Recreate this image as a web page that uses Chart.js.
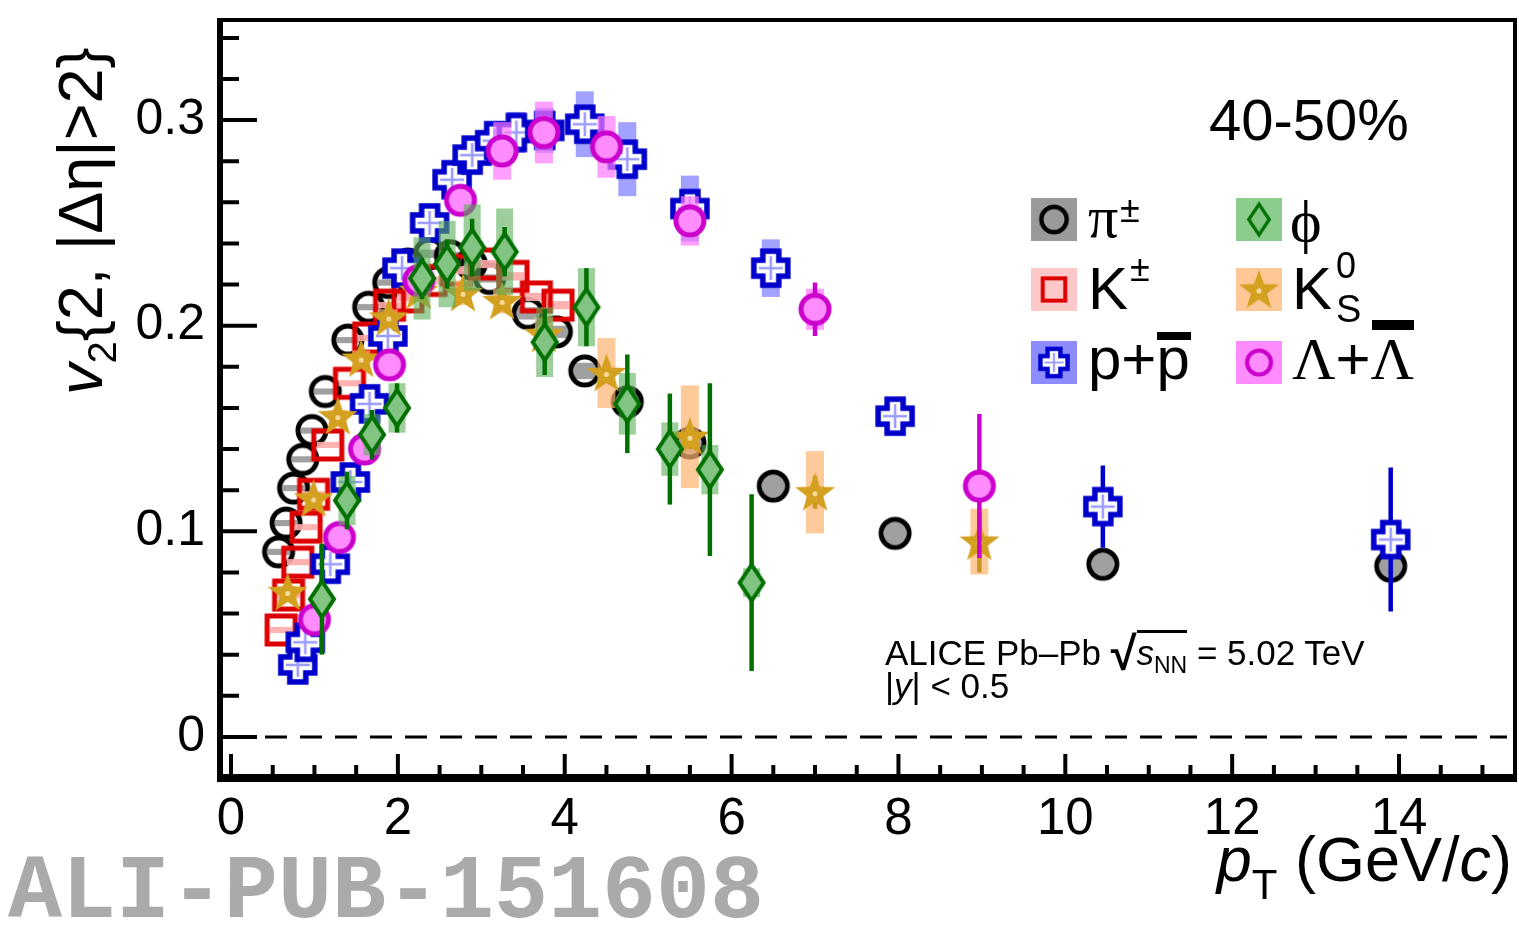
<!DOCTYPE html>
<html>
<head>
<meta charset="utf-8">
<script src="https://cdn.jsdelivr.net/npm/chart.js@4.4.0/dist/chart.umd.min.js"></script>
<style>
  html, body { margin: 0; padding: 0; background: #fff; }
  #wrap { position: relative; width: 1519px; height: 926px; overflow: hidden;
          font-family: "Liberation Sans", Arial, sans-serif; color: #000; }
  #chart { position: absolute; left: 0; top: 0; }
  .t { position: absolute; white-space: nowrap; line-height: 1; }
  .serif { font-family: "Liberation Serif", "DejaVu Serif", serif; }
  .bar { position: absolute; background: #000; }
  .icon { position: absolute; }
</style>
</head>
<body>
<div id="wrap">
  <canvas id="chart" width="1519" height="926"></canvas>
</div>
<script>
// values (pT in GeV/c, v2)
const PION_PT = [0.57, 0.66, 0.75, 0.86, 0.97, 1.13, 1.4, 1.65, 1.89, 2.12, 2.38, 2.63, 2.88, 3.1, 3.56, 3.9, 4.24, 4.75, 5.5, 6.5, 7.96, 10.45, 13.9];
const PION_V2 = [0.090, 0.104, 0.121, 0.135, 0.149, 0.168, 0.193, 0.209, 0.221, 0.230, 0.235, 0.234, 0.230, 0.223, 0.206, 0.197, 0.178, 0.163, 0.143, 0.122, 0.099, 0.084, 0.083];
const PION_SYS = [0.0015, 0.0015, 0.0015, 0.0015, 0.0015, 0.0015, 0.0015, 0.0015, 0.0015, 0.002, 0.002, 0.002, 0.002, 0.002, 0.003, 0.003, 0.004, 0.005, 0.0055, 0.0055, 0.0055, 0.0055, 0.0055];

const KAON_PT = [0.6, 0.69, 0.8, 0.9, 0.99, 1.16, 1.42, 1.65, 1.9, 2.12, 2.4, 2.7, 3.05, 3.38, 3.66, 3.92];
const KAON_V2 = [0.052, 0.069, 0.085, 0.102, 0.118, 0.142, 0.172, 0.194, 0.210, 0.214, 0.222, 0.227, 0.230, 0.224, 0.214, 0.210];
const KAON_SYS = [0.0015, 0.0015, 0.0015, 0.0015, 0.0015, 0.0015, 0.0015, 0.0015, 0.0015, 0.002, 0.002, 0.002, 0.002, 0.002, 0.002, 0.002];

const PROTON_PT = [0.8, 0.89, 1.19, 1.43, 1.66, 1.88, 2.05, 2.38, 2.65, 2.89, 3.16, 3.42, 3.76, 4.24, 4.75, 5.5, 6.47, 7.96, 10.45, 13.9];
const PROTON_V2 = [0.035, 0.046, 0.084, 0.124, 0.162, 0.195, 0.228, 0.250, 0.271, 0.283, 0.290, 0.294, 0.295, 0.298, 0.281, 0.257, 0.228, 0.156, 0.112, 0.096];
const PROTON_STAT = [0.002, 0.002, 0.002, 0.002, 0.002, 0.002, 0.002, 0.002, 0.002, 0.002, 0.002, 0.003, 0.003, 0.003, 0.004, 0.005, 0.006, 0.007, 0.020, 0.035];
const PROTON_SYS = [0.003, 0.003, 0.003, 0.004, 0.004, 0.005, 0.005, 0.006, 0.007, 0.008, 0.009, 0.010, 0.011, 0.016, 0.018, 0.016, 0.014, 0.006, 0.005, 0.005];

const K0S_PT = [0.68, 0.99, 1.28, 1.56, 1.89, 2.25, 2.78, 3.25, 3.75, 4.5, 5.5, 7, 8.97];
const K0S_V2 = [0.0705, 0.116, 0.156, 0.184, 0.204, 0.217, 0.216, 0.212, 0.196, 0.177, 0.146, 0.119, 0.095];
const K0S_STAT = [0.001, 0.001, 0.001, 0.001, 0.001, 0.002, 0.002, 0.002, 0.003, 0.004, 0.006, 0.008, 0.015];
const K0S_SYS = [0.003, 0.003, 0.003, 0.004, 0.004, 0.005, 0.006, 0.006, 0.008, 0.017, 0.025, 0.020, 0.016];

const LAMBDA_PT = [1.0, 1.3, 1.6, 1.9, 2.25, 2.75, 3.25, 3.75, 4.5, 5.5, 7, 8.97];
const LAMBDA_V2 = [0.057, 0.097, 0.140, 0.181, 0.222, 0.261, 0.285, 0.294, 0.287, 0.251, 0.208, 0.122];
const LAMBDA_STAT = [0.003, 0.003, 0.003, 0.003, 0.003, 0.003, 0.004, 0.004, 0.005, 0.006, 0.013, 0.035];
const LAMBDA_SYS = [0.003, 0.003, 0.003, 0.003, 0.004, 0.005, 0.014, 0.015, 0.015, 0.012, 0.010, 0.006];

const PHI_PT = [1.09, 1.39, 1.69, 1.99, 2.29, 2.59, 2.89, 3.28, 3.76, 4.26, 4.75, 5.26, 5.74, 6.24];
const PHI_V2 = [0.067, 0.115, 0.147, 0.160, 0.223, 0.230, 0.238, 0.236, 0.192, 0.209, 0.162, 0.140, 0.130, 0.075];
const PHI_STAT = [0.027, 0.014, 0.012, 0.012, 0.010, 0.012, 0.014, 0.012, 0.016, 0.019, 0.024, 0.027, 0.042, 0.043];
const PHI_SYS = [0.004, 0.012, 0.010, 0.012, 0.020, 0.021, 0.021, 0.021, 0.017, 0.019, 0.015, 0.013, 0.012, 0.007];

const X_TICKS = [0, 2, 4, 6, 8, 10, 12, 14];
const Y_TICKS = [0, 0.1, 0.2, 0.3];

const FONT = '"Liberation Sans", Arial, sans-serif';

// ---- marker images ----
const makeMarker = (w, h, draw) => {
  const c = document.createElement("canvas");
  c.width = w;
  c.height = h;
  const g = c.getContext("2d");
  g.translate(w / 2, h / 2);
  draw(g);
  return c;
};

const pionMarker = makeMarker(40, 40, (g) => {
  g.beginPath();
  g.arc(0, 0, 14, 0, 2 * Math.PI);
  g.lineWidth = 5;
  g.strokeStyle = "#000";
  g.stroke();
});

const kaonMarker = makeMarker(40, 40, (g) => {
  g.lineWidth = 5;
  g.strokeStyle = "#dd0000";
  g.strokeRect(-14, -14, 28, 28);
});

const protonMarker = makeMarker(44, 44, (g) => {
  const a = 8, L = 17;
  const pts = [[-a, -L], [a, -L], [a, -a], [L, -a], [L, a], [a, a], [a, L], [-a, L], [-a, a], [-L, a], [-L, -a], [-a, -a]];
  g.beginPath();
  pts.forEach(([x, y], i) => (i ? g.lineTo(x, y) : g.moveTo(x, y)));
  g.closePath();
  g.fillStyle = "#fff";
  g.fill();
  g.lineWidth = 5.5;
  g.strokeStyle = "#0000cc";
  g.stroke();
  g.beginPath();
  g.moveTo(-12, 0); g.lineTo(12, 0);
  g.moveTo(0, -12); g.lineTo(0, 12);
  g.lineWidth = 2.5;
  g.strokeStyle = "#9c9cff";
  g.stroke();
});

const phiMarker = makeMarker(32, 44, (g) => {
  g.beginPath();
  g.moveTo(0, -18); g.lineTo(12, 0); g.lineTo(0, 18); g.lineTo(-12, 0);
  g.closePath();
  g.fillStyle = "#82c482";
  g.fill();
  g.lineWidth = 4;
  g.strokeStyle = "#007000";
  g.stroke();
});

const starMarker = makeMarker(46, 46, (g) => {
  g.beginPath();
  for (let i = 0; i < 10; i++) {
    const r = i % 2 ? 8.5 : 21;
    const ang = -Math.PI / 2 + (i * Math.PI) / 5;
    const x = r * Math.cos(ang), y = r * Math.sin(ang) + 1.5;
    i ? g.lineTo(x, y) : g.moveTo(x, y);
  }
  g.closePath();
  g.fillStyle = "#d4a020";
  g.fill();
  g.beginPath();
  g.arc(0, 1.5, 2.5, 0, 2 * Math.PI);
  g.fillStyle = "#f6dba0";
  g.fill();
});

const lambdaMarker = makeMarker(40, 40, (g) => {
  g.beginPath();
  g.arc(0, 0, 14, 0, 2 * Math.PI);
  g.fillStyle = "#ff8cff";
  g.fill();
  g.lineWidth = 5;
  g.strokeStyle = "#cc00cc";
  g.stroke();
});

// dataset order = drawing order (first drawn lowest)
const SPECIES = [
  { pt: PION_PT, v2: PION_V2, sys: PION_SYS, stat: null, marker: pionMarker, box: "rgba(150,150,150,0.9)", boxW: 22, line: "#000", legBox: "#9a9a9a" },
  { pt: KAON_PT, v2: KAON_V2, sys: KAON_SYS, stat: null, marker: kaonMarker, box: "rgba(255,170,170,0.9)", boxW: 22, line: "#dd0000", legBox: "#ffc8c8" },
  { pt: PROTON_PT, v2: PROTON_V2, sys: PROTON_SYS, stat: PROTON_STAT, marker: protonMarker, box: "rgba(110,110,255,0.65)", boxW: 18, line: "#0000cc", legBox: "#8c8cff" },
  { pt: K0S_PT, v2: K0S_V2, sys: K0S_SYS, stat: K0S_STAT, marker: starMarker, box: "rgba(255,180,110,0.7)", boxW: 18, line: "#c8961e", legBox: "#ffc896" },
  { pt: LAMBDA_PT, v2: LAMBDA_V2, sys: LAMBDA_SYS, stat: LAMBDA_STAT, marker: lambdaMarker, box: "rgba(255,120,255,0.7)", boxW: 18, line: "#cc00cc", legBox: "#ff8cff" },
  { pt: PHI_PT, v2: PHI_V2, sys: PHI_SYS, stat: PHI_STAT, marker: phiMarker, box: "rgba(90,175,90,0.6)", boxW: 17, line: "#007000", legBox: "#8ccc8c" },
];

const errorPlugin = {
  id: "errors",
  beforeDatasetsDraw(chart) {
    const { ctx: g, chartArea: a, scales: { y } } = chart;
    const y0 = y.getPixelForValue(0);
    g.save();
    g.setLineDash([22, 13]);
    g.lineWidth = 3;
    g.strokeStyle = "#000";
    g.beginPath();
    g.moveTo(a.left + 10, y0);
    g.lineTo(a.right - 8, y0);
    g.stroke();
    g.restore();
  },
  beforeDatasetDraw(chart, args) {
    const sp = SPECIES[args.index];
    const { ctx: g, scales: { x, y } } = chart;
    g.save();
    g.fillStyle = sp.box;
    sp.pt.forEach((pt, i) => {
      const s = sp.sys[i];
      if (!s) return;
      const px = x.getPixelForValue(pt);
      const top = y.getPixelForValue(sp.v2[i] + s);
      const bot = y.getPixelForValue(sp.v2[i] - s);
      g.fillRect(px - sp.boxW / 2, top, sp.boxW, bot - top);
    });
    if (sp.stat) {
      g.strokeStyle = sp.line;
      g.lineWidth = 4.5;
      sp.pt.forEach((pt, i) => {
        const px = x.getPixelForValue(pt);
        g.beginPath();
        g.moveTo(px, y.getPixelForValue(sp.v2[i] + sp.stat[i]));
        g.lineTo(px, y.getPixelForValue(sp.v2[i] - sp.stat[i]));
        g.stroke();
      });
    }
    g.restore();
  },
  afterDraw(chart) {
    const { ctx: g, chartArea: a, scales: { x, y } } = chart;
    g.save();
    g.strokeStyle = "#000";
    g.lineWidth = 4;
    g.beginPath();
    // x ticks, pointing up from the bottom axis
    for (let v = 0; v <= 15.001; v += 0.5) {
      const px = x.getPixelForValue(v);
      const len = Math.abs(v % 2) < 1e-6 ? 24 : 13;
      g.moveTo(px, a.bottom);
      g.lineTo(px, a.bottom - len);
    }
    // y ticks, pointing right from the left axis
    for (let k = 0; k <= 17; k++) {
      const v = k * 0.02;
      const py = y.getPixelForValue(v);
      const len = k % 5 === 0 ? 37 : 19;
      g.moveTo(a.left, py);
      g.lineTo(a.left + len, py);
    }
    g.stroke();
    // frame
    g.lineWidth = 4;
    g.strokeRect(a.left, a.top, a.right - a.left, a.bottom - a.top);
    g.lineWidth = 6;
    g.beginPath();
    g.moveTo(a.left, a.top - 2);
    g.lineTo(a.left, a.bottom + 4);
    g.stroke();
    g.lineWidth = 8;
    g.beginPath();
    g.moveTo(a.left - 3, a.bottom);
    g.lineTo(a.right + 2, a.bottom);
    g.stroke();
    g.restore();
  },
};

const chart = new Chart(document.getElementById("chart"), {
  type: "scatter",
  data: {
    datasets: SPECIES.map((sp, i) => ({
      data: sp.pt.map((pt, j) => ({ x: pt, y: sp.v2[j] })),
      pointStyle: sp.marker,
      pointRadius: 16,
      showLine: false,
      order: SPECIES.length - i,
    })),
  },
  options: {
    responsive: false,
    animation: false,
    events: [],
    layout: { autoPadding: false, padding: { top: 20, right: 4, left: 0, bottom: 0 } },
    plugins: { legend: { display: false }, tooltip: { enabled: false } },
    scales: {
      x: {
        type: "linear",
        min: -0.132,
        max: 15.39,
        afterFit: (s) => {
          s.height = 148;
          s.paddingLeft = 0;
          s.paddingRight = 0;
        },
        afterBuildTicks: (s) => { s.ticks = X_TICKS.map((v) => ({ value: v })); },
        grid: { display: false, drawTicks: false },
        border: { display: false },
        ticks: { font: { family: FONT, size: 51 }, color: "#000", padding: 11, maxRotation: 0, callback: (v) => String(v) },
      },
      y: {
        type: "linear",
        min: -0.02,
        max: 0.3487,
        afterFit: (s) => {
          s.width = 220;
          s.paddingTop = 0;
          s.paddingBottom = 0;
        },
        afterBuildTicks: (s) => { s.ticks = Y_TICKS.map((v) => ({ value: v })); },
        grid: { display: false, drawTicks: false },
        border: { display: false },
        ticks: { font: { family: FONT, size: 50 }, color: "#000", padding: 15, callback: (v) => (v === 0 ? "0" : v.toFixed(1)) },
      },
    },
  },
  plugins: [errorPlugin],
});

// ---- text overlays ----
const wrap = document.getElementById("wrap");
const addText = (html, x, base, size, extra = "", k = 0.8465) => {
  const d = document.createElement("div");
  d.className = "t";
  d.style.cssText = `left:${x}px;top:${base - k * size}px;font-size:${size}px;${extra}`;
  d.innerHTML = html;
  wrap.appendChild(d);
  return d;
};
const addBar = (x, y, w, h) => {
  const d = document.createElement("div");
  d.className = "bar";
  d.style.cssText = `left:${x}px;top:${y}px;width:${w}px;height:${h}px;`;
  wrap.appendChild(d);
};

// legend icons
const ICON_POS = [[1031, 198], [1031, 268], [1031, 341], [1236, 268], [1236, 341], [1236, 198]];
const ICON_SCALE = [0.9, 0.8, 0.8, 1.0, 0.85, 0.85];
SPECIES.forEach((sp, i) => {
  const c = document.createElement("canvas");
  c.width = 46;
  c.height = 43;
  c.className = "icon";
  c.style.left = ICON_POS[i][0] + "px";
  c.style.top = ICON_POS[i][1] + "px";
  const g = c.getContext("2d");
  g.fillStyle = sp.legBox;
  g.fillRect(0, 0, 46, 43);
  const s = ICON_SCALE[i];
  const w = sp.marker.width * s, h = sp.marker.height * s;
  g.drawImage(sp.marker, 23 - w / 2, 21.5 - h / 2, w, h);
  wrap.appendChild(c);
});

addText('<span class="serif">π</span>', 1088, 238, 60);
addText("±", 1120, 222, 36);
addText("K", 1088, 310, 60);
addText("±", 1130, 281, 36);
addText("p+p", 1088, 380, 60);
addBar(1157, 332, 34, 8);
addText('<span class="serif">ϕ</span>', 1290, 242, 60);
addText("K", 1292, 310, 60);
addText("0", 1336, 278, 36);
addText("S", 1336, 322, 38);
addText('<span class="serif">Λ</span>+<span class="serif">Λ</span>', 1292, 380, 60);
addBar(1372, 320, 42, 10);

addText("40-50%", 1209, 140, 58);

addText(
  'ALICE Pb–Pb <span style="font-size:47px;position:relative;top:5px;font-weight:bold">√</span>' +
    '<span style="border-top:3px solid #000;"><i>s</i><span style="font-size:23px;position:relative;top:8px">NN</span></span> = 5.02 TeV',
  885, 655, 35
);
addText('|<i>y</i>| &lt; 0.5', 885, 698, 35);

// x title
const xt = addText(
  '<i>p</i><span style="font-size:42px;position:relative;top:18px">T</span> (GeV/<i>c</i>)',
  0, 881, 63
);
xt.style.left = "";
xt.style.right = "7px";

// y title (rotated)
const ySize = 63;
addText(
  '<i>v</i><span style="font-size:40px;position:relative;top:14px">2</span>{2, |<span>Δη</span>|&gt;2}',
  102 - 0.8465 * ySize, 395 + 0.8465 * ySize, ySize, "transform-origin:0 0;transform:rotate(-90deg);"
);

addText("ALI-PUB-151608", 8, 917, 90, 'font-family:"Liberation Mono",monospace;font-weight:bold;color:#aaaaaa;', 0.7665);
</script>
</body>
</html>
